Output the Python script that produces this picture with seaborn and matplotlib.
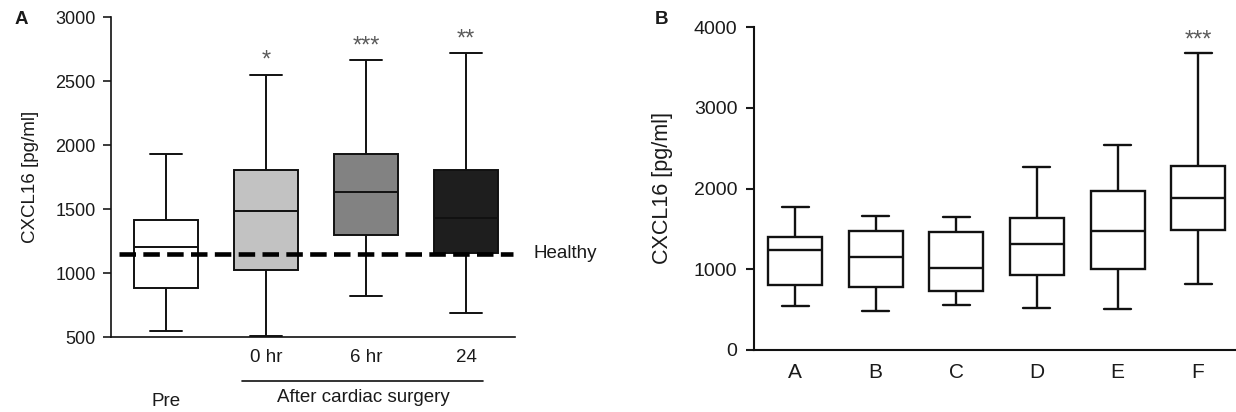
import numpy as np
import pandas as pd
import matplotlib
matplotlib.use("Agg")
import matplotlib.pyplot as plt
import seaborn as sns

# ---------------- data ----------------
groups_a = ["Pre", "0 hr", "6 hr", "24"]
a_low = [544, 510, 822, 687]
a_q1 = [886, 1021, 1299, 1154]
a_med = [1205, 1488, 1636, 1426]
a_q3 = [1415, 1802, 1932, 1807]
a_high = [1932, 2549, 2663, 2720]
a_colors = ["#ffffff", "#c2c2c2", "#828282", "#1e1e1e"]
a_stars = ["", "*", "***", "**"]
healthy_level = 1150

groups_b = ["A", "B", "C", "D", "E", "F"]
b_low = [545, 479, 554, 517, 508, 814]
b_q1 = [806, 785, 736, 934, 1000, 1488]
b_med = [1240, 1149, 1021, 1310, 1471, 1884]
b_q3 = [1405, 1479, 1459, 1632, 1971, 2273]
b_high = [1769, 1657, 1649, 2269, 2541, 3678]
b_stars = ["", "", "", "", "", "***"]


def long_frame(groups, lo, q1, med, q3, hi):
    rows = []
    for g, a, b, c, d, e in zip(groups, lo, q1, med, q3, hi):
        for v in (a, b, c, d, e):
            rows.append({"group": g, "value": v})
    return pd.DataFrame(rows)


df_a = long_frame(groups_a, a_low, a_q1, a_med, a_q3, a_high)
df_b = long_frame(groups_b, b_low, b_q1, b_med, b_q3, b_high)

sns.set_theme(style="ticks")
plt.rcParams["font.family"] = ["Liberation Sans", "DejaVu Sans"]
plt.rcParams["text.color"] = "#1a1a1a"
plt.rcParams["axes.labelcolor"] = "#1a1a1a"
plt.rcParams["xtick.color"] = "#1a1a1a"
plt.rcParams["ytick.color"] = "#1a1a1a"

W, H = 1236, 412
fig = plt.figure(figsize=(W / 100, H / 100), dpi=100)

# ---------------- panel A ----------------
axA = fig.add_axes([111 / W, 1 - 337 / H, (515 - 111) / W, 320 / H])
sns.boxplot(data=df_a, x="group", y="value", hue="group", order=groups_a,
            hue_order=groups_a, palette=a_colors, whis=(0, 100), width=0.64,
            linecolor="#111111", linewidth=1.4, fliersize=0, legend=False,
            ax=axA)
axA.set_xlim(-0.55, 3.49)
axA.set_ylim(500, 3000)
axA.set_yticks([500, 1000, 1500, 2000, 2500, 3000])
axA.set_xticks(range(len(groups_a)))
axA.set_xticklabels([""] + groups_a[1:])
axA.set_xlabel("")
axA.set_ylabel("CXCL16 [pg/ml]", fontsize=13.5, labelpad=12)
axA.tick_params(axis="y", labelsize=13, length=6, width=1.2, pad=5)
axA.tick_params(axis="x", labelsize=13.5, length=0, pad=9)
for s in ("top", "right"):
    axA.spines[s].set_visible(False)
for s in ("left", "bottom"):
    axA.spines[s].set_linewidth(1.2)
    axA.spines[s].set_color("#111111")

axA.axhline(healthy_level, xmin=0.02, xmax=0.995, color="black", lw=3.3,
            linestyle=(0, (3.6, 1.6)), dash_capstyle="butt", zorder=10)
axA.text(1.045, healthy_level, "Healthy", transform=axA.get_yaxis_transform(),
         ha="left", va="center", fontsize=13.5)

trA = axA.get_xaxis_transform()
axA.text(0, -0.20, groups_a[0], transform=trA, ha="center", va="center",
         fontsize=13.5)
axA.plot([0.76, 3.17], [-0.1375, -0.1375], transform=trA, color="#111111",
         lw=1.2, clip_on=False)
axA.text(1.97, -0.19, "After cardiac surgery", transform=trA, ha="center",
         va="center", fontsize=13.5)

for i, (st, hi) in enumerate(zip(a_stars, a_high)):
    if st:
        axA.annotate(st, (i, hi), xytext=(0, 2), textcoords="offset points",
                     ha="center", va="bottom", fontsize=17, color="#5a5a5a")

fig.text(15 / W, 1 - 19 / H, "A", fontsize=13.5, fontweight="bold",
         ha="left", va="center")

# ---------------- panel B ----------------
axB = fig.add_axes([754 / W, 1 - 350 / H, (W - 754) / W, 323 / H])
sns.boxplot(data=df_b, x="group", y="value", order=groups_b,
            color="white", whis=(0, 100), width=0.67,
            linecolor="#111111", linewidth=1.7, fliersize=0, ax=axB)
axB.set_xlim(-0.51, 5.47)
axB.set_ylim(0, 4000)
axB.set_yticks([0, 1000, 2000, 3000, 4000])
axB.set_xlabel("")
axB.set_ylabel("CXCL16 [pg/ml]", fontsize=15.5, labelpad=15)
axB.tick_params(axis="y", labelsize=14, length=6, width=1.5, pad=6)
axB.tick_params(axis="x", labelsize=15, length=0, pad=9)
for s in ("top", "right"):
    axB.spines[s].set_visible(False)
for s in ("left", "bottom"):
    axB.spines[s].set_linewidth(1.5)
    axB.spines[s].set_color("#111111")

for i, (st, hi) in enumerate(zip(b_stars, b_high)):
    if st:
        axB.annotate(st, (i, hi), xytext=(0, 1), textcoords="offset points",
                     ha="center", va="bottom", fontsize=17, color="#5a5a5a")

fig.text(655 / W, 1 - 20 / H, "B", fontsize=13.5, fontweight="bold",
         ha="left", va="center")

fig.savefig("out.png", dpi=100)
